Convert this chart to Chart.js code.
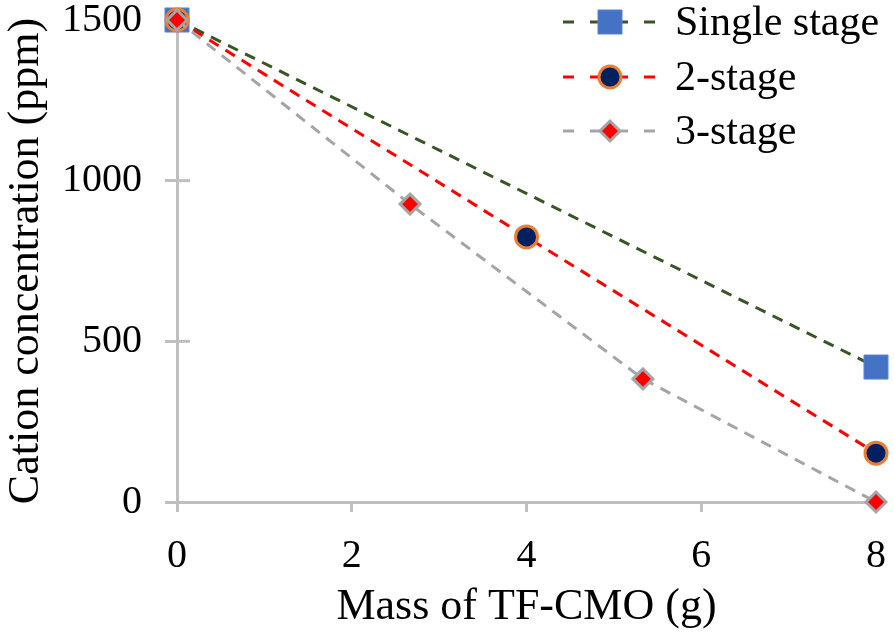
<!DOCTYPE html>
<html>
<head>
<meta charset="utf-8">
<script src="https://cdn.jsdelivr.net/npm/chart.js@4.4.1/dist/chart.umd.min.js"></script>
<style>
  html, body { margin: 0; padding: 0; background: #fff; }
  #wrap { width: 894px; height: 638px; position: relative; }
</style>
</head>
<body>
<div id="wrap"><canvas id="chart"></canvas></div>
<script>
// data
const seriesNames = ['Single stage', '2-stage', '3-stage'];
const massSingle = [0, 8];
const concSingle = [1500, 420];
const mass2 = [0, 4, 8];
const conc2 = [1500, 825, 152];
const mass3 = [0, 2.667, 5.333, 8];
const conc3 = [1500, 927, 383, 0];
const xTicks = [0, 2, 4, 6, 8];
const yTicks = [0, 500, 1000, 1500];

const FONT = '"Liberation Serif", "Times New Roman", serif';
const AXIS_GRAY = '#bfbfbf';

function pts(xs, ys) {
    return xs.map((x, i) => ({ x: x, y: ys[i] }));
}

// fixed box sizes, no automatic edge padding from the labels
function fixBox(s, w, h) {
    if (w) s.width = w;
    if (h) s.height = h;
    s.paddingTop = 0;
    s.paddingBottom = 0;
    s.paddingLeft = 0;
    s.paddingRight = 0;
}

// y ticks in the figure cross the axis, draw the inner half
const crossTicks = {
    id: 'crossTicks',
    beforeDatasetsDraw(chart) {
        const ctx = chart.ctx;
        const y = chart.scales.y;
        ctx.save();
        ctx.strokeStyle = AXIS_GRAY;
        ctx.lineWidth = 3;
        yTicks.forEach(v => {
            if (v === 0) return;
            const py = y.getPixelForValue(v);
            ctx.beginPath();
            ctx.moveTo(chart.chartArea.left, py);
            ctx.lineTo(chart.chartArea.left + 13, py);
            ctx.stroke();
        });
        ctx.restore();
    }
};

// legend drawn inside the plot, top right
const innerLegend = {
    id: 'innerLegend',
    afterDraw(chart) {
        const ctx = chart.ctx;
        const rows = [22, 77, 131];
        ctx.save();
        chart.data.datasets.forEach((ds, i) => {
            const cy = rows[i];
            ctx.strokeStyle = ds.borderColor;
            ctx.lineWidth = 3;
            ctx.setLineDash([11, 16]);
            ctx.beginPath();
            ctx.moveTo(563, cy);
            ctx.lineTo(658, cy);
            ctx.stroke();
            ctx.setLineDash([]);
            ctx.fillStyle = ds.pointBackgroundColor;
            ctx.strokeStyle = ds.pointBorderColor;
            ctx.lineWidth = ds.pointBorderWidth;
            Chart.helpers.drawPoint(ctx, {
                pointStyle: ds.pointStyle,
                radius: ds.pointRadius,
                borderWidth: ds.pointBorderWidth,
                rotation: 0
            }, 610, cy);
            ctx.fillStyle = '#000';
            ctx.font = '42px ' + FONT;
            ctx.textBaseline = 'middle';
            ctx.textAlign = 'left';
            ctx.fillText(seriesNames[i], 675, cy + 2);
        });
        ctx.restore();
    }
};

new Chart(document.getElementById('chart'), {
    type: 'scatter',
    data: {
        datasets: [
            {
                label: seriesNames[0],
                data: pts(massSingle, concSingle),
                showLine: true,
                borderColor: '#375623',
                borderWidth: 3,
                borderDash: [11, 8],
                pointStyle: 'rect',
                pointRadius: 17,
                pointBackgroundColor: '#4472c4',
                pointBorderColor: '#5b86d6',
                pointBorderWidth: 1,
                order: 3
            },
            {
                label: seriesNames[1],
                data: pts(mass2, conc2),
                showLine: true,
                borderColor: '#ff0000',
                borderWidth: 3,
                borderDash: [11, 8],
                pointStyle: 'circle',
                pointRadius: 11,
                pointBackgroundColor: '#002060',
                pointBorderColor: '#ed7d31',
                pointBorderWidth: 3,
                order: 2
            },
            {
                label: seriesNames[2],
                data: pts(mass3, conc3),
                showLine: true,
                borderColor: '#a5a5a5',
                borderWidth: 3,
                borderDash: [11, 8],
                pointStyle: 'rectRot',
                pointRadius: 10,
                pointBackgroundColor: '#ff0000',
                pointBorderColor: '#a5a5a5',
                pointBorderWidth: 3,
                order: 1
            }
        ]
    },
    options: {
        responsive: true,
        maintainAspectRatio: false,
        animation: false,
        clip: false,
        layout: { padding: { top: 20, right: 17, left: 0, bottom: 0 } },
        plugins: {
            legend: { display: false },
            tooltip: { enabled: false }
        },
        scales: {
            x: {
                type: 'linear',
                min: 0,
                max: 8,
                afterBuildTicks: s => { s.ticks = xTicks.map(v => ({ value: v })); },
                afterFit: s => fixBox(s, 0, 136),
                grid: { drawOnChartArea: false, tickLength: 10, tickWidth: 3, tickColor: AXIS_GRAY },
                border: { color: AXIS_GRAY, width: 3 },
                ticks: { color: '#000', font: { family: FONT, size: 40 }, padding: 20, callback: v => String(v) },
                title: {
                    display: true,
                    text: 'Mass of TF-CMO (g)',
                    color: '#000',
                    font: { family: FONT, size: 44 },
                    padding: { top: 0, bottom: 4 }
                }
            },
            y: {
                type: 'linear',
                min: 0,
                max: 1500,
                afterBuildTicks: s => { s.ticks = yTicks.map(v => ({ value: v })); },
                afterFit: s => fixBox(s, 177, 0),
                grid: { drawOnChartArea: false, tickLength: 12, tickWidth: 3, tickColor: AXIS_GRAY },
                border: { color: AXIS_GRAY, width: 3 },
                ticks: { color: '#000', font: { family: FONT, size: 40 }, padding: 23, callback: v => String(v) },
                title: {
                    display: true,
                    text: 'Cation concentration (ppm)',
                    color: '#000',
                    font: { family: FONT, size: 44 },
                    padding: { top: 0, bottom: 0 }
                }
            }
        }
    },
    plugins: [crossTicks, innerLegend]
});
</script>
</body>
</html>
